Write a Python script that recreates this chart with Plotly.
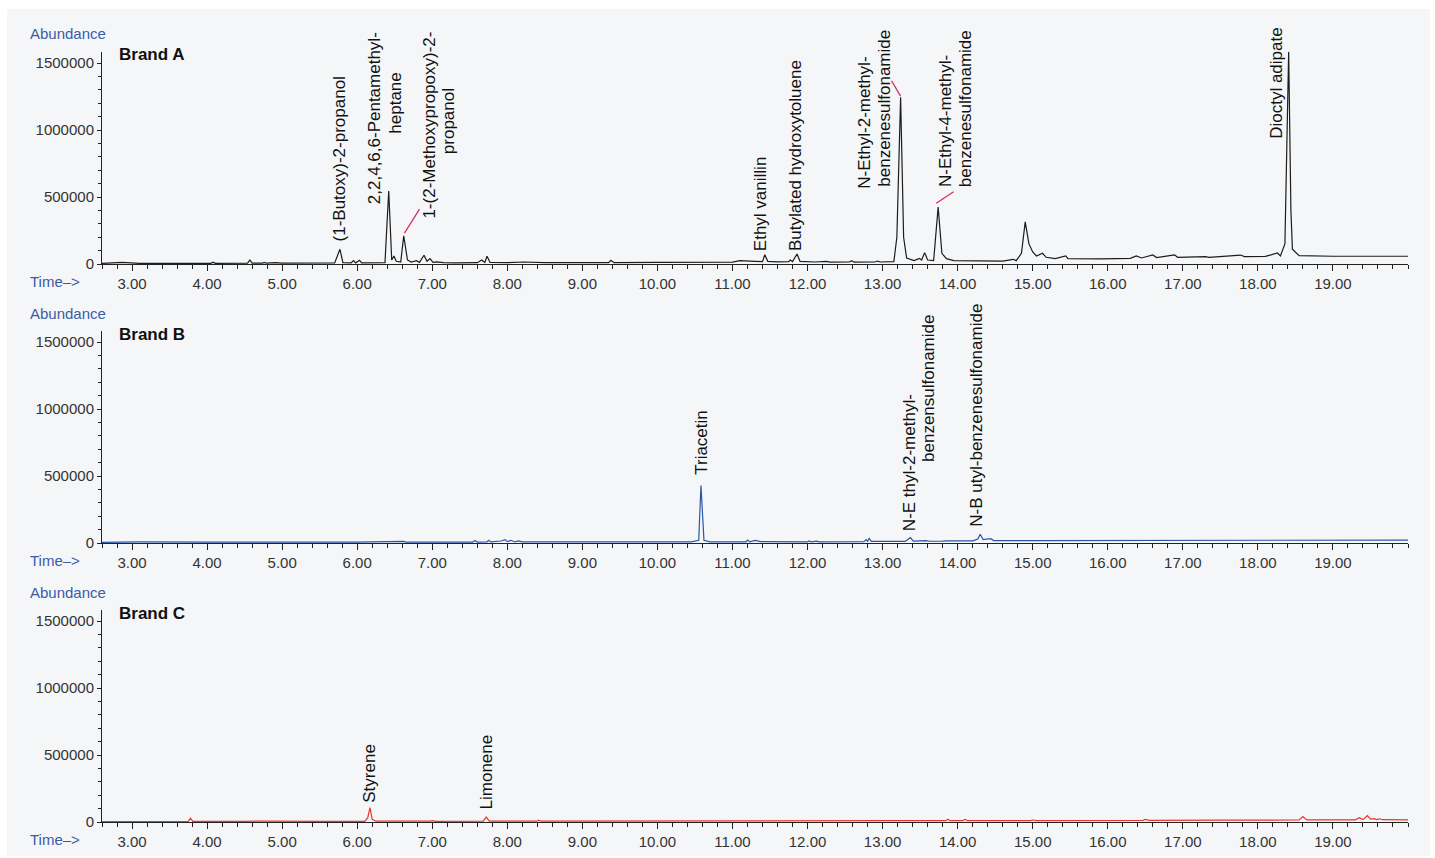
import plotly.graph_objects as go

# ---------------- data ----------------
time_A = [2.60, 2.87, 3.10, 4.05, 4.08, 4.11, 4.54, 4.57, 4.60, 4.74, 4.76, 4.79, 4.91, 5.00,
          5.70, 5.77, 5.81, 5.92, 5.95, 5.98, 6.03, 6.06, 6.37, 6.42, 6.46, 6.49, 6.52,
          6.58, 6.62, 6.67, 6.72, 6.79, 6.83, 6.89, 6.93, 6.97, 7.01, 7.06, 7.15, 7.30,
          7.60, 7.66, 7.70, 7.73, 7.77, 8.00, 8.22, 8.50, 8.90, 9.35, 9.38, 9.42,
          10.00, 10.50, 11.00, 11.10, 11.20, 11.30, 11.40, 11.43, 11.47, 11.60, 11.75, 11.77,
          11.80, 11.86, 11.90, 12.10, 12.25, 12.30, 12.56, 12.59, 12.62, 12.90, 12.93, 12.97,
          13.15, 13.19, 13.24, 13.28, 13.32, 13.42, 13.49, 13.52, 13.56, 13.60, 13.68, 13.74,
          13.79, 13.85, 13.95, 14.30, 14.60, 14.74, 14.78, 14.85, 14.90, 14.95, 15.00, 15.05,
          15.13, 15.18, 15.30, 15.44, 15.47, 15.90, 16.30, 16.38, 16.45, 16.60, 16.65, 16.89,
          16.93, 17.30, 17.35, 17.77, 17.82, 18.10, 18.26, 18.30, 18.36, 18.41, 18.44, 18.46,
          18.55, 19.00, 19.50, 20.00]
abund_A = [5000, 12000, 5000, 5000, 14000, 5000, 6000, 30000, 6000, 6000, 12000, 6000, 10000, 6000,
           8000, 110000, 10000, 8000, 25000, 8000, 28000, 8000, 10000, 545000, 30000, 60000, 20000,
           15000, 210000, 30000, 15000, 25000, 12000, 65000, 20000, 40000, 12000, 16000, 10000, 8000,
           10000, 30000, 12000, 58000, 12000, 10000, 15000, 10000, 10000, 10000, 28000, 10000,
           12000, 12000, 14000, 25000, 25000, 20000, 18000, 70000, 20000, 16000, 18000, 30000,
           18000, 75000, 20000, 15000, 20000, 14000, 15000, 25000, 14000, 15000, 22000, 15000,
           18000, 200000, 1245000, 200000, 45000, 25000, 42000, 30000, 85000, 30000, 25000, 425000,
           80000, 40000, 25000, 22000, 22000, 35000, 25000, 80000, 315000, 150000, 90000, 60000,
           80000, 50000, 40000, 60000, 40000, 38000, 42000, 60000, 45000, 68000, 48000, 68000,
           50000, 55000, 50000, 67000, 55000, 57000, 82000, 60000, 150000, 1585000, 400000, 110000,
           62000, 58000, 57000, 58000]

time_B = [2.60, 3.10, 4.00, 5.00, 6.00, 6.62, 6.65, 7.00, 7.54, 7.57, 7.60, 7.73, 7.75, 7.78,
          7.92, 7.97, 8.00, 8.05, 8.10, 8.15, 8.20, 8.50, 9.00, 9.50, 10.00, 10.30, 10.35,
          10.45, 10.55, 10.58, 10.62, 10.70, 11.18, 11.20, 11.23, 11.30, 11.38, 11.70, 12.00,
          12.02, 12.05, 12.12, 12.15, 12.75, 12.78, 12.80, 12.82, 12.85, 13.30, 13.37, 13.41,
          13.58, 13.62, 13.80, 13.85, 14.20, 14.27, 14.30, 14.34, 14.44, 14.48, 15.00, 16.00,
          17.00, 18.00, 19.00, 20.00]
abund_B = [5000, 8000, 6000, 6000, 7000, 12000, 7000, 7000, 7000, 18000, 7000, 8000, 20000, 8000,
           15000, 25000, 10000, 20000, 8000, 15000, 8000, 8000, 8000, 8000, 8000, 8000, 12000,
           8000, 20000, 430000, 20000, 8000, 8000, 22000, 9000, 20000, 10000, 9000, 9000,
           15000, 9000, 14000, 9000, 10000, 25000, 12000, 35000, 12000, 12000, 40000, 14000,
           18000, 13000, 14000, 16000, 16000, 30000, 65000, 25000, 32000, 18000, 18000, 19000,
           20000, 21000, 21000, 22000]

time_C = [2.60, 3.00, 3.75, 3.78, 3.81, 4.50, 4.80, 5.50, 6.10, 6.14, 6.17, 6.20, 6.25, 6.97,
          7.00, 7.05, 7.68, 7.72, 7.76, 8.39, 8.42, 8.45, 9.00, 10.00, 11.00, 12.00, 13.00,
          13.84, 13.87, 13.90, 14.07, 14.10, 14.13, 14.97, 15.00, 15.05, 16.00, 16.47, 16.50,
          16.55, 17.50, 18.55, 18.60, 18.65, 19.30, 19.35, 19.40, 19.46, 19.50, 19.55, 19.58,
          19.62, 19.66, 20.00]
abund_C = [3000, 4000, 5000, 28000, 5000, 5000, 7000, 5000, 5000, 30000, 107000, 20000, 6000, 6000,
           10000, 5000, 6000, 37000, 6000, 6000, 14000, 6000, 7000, 8000, 9000, 10000, 10000,
           10000, 20000, 10000, 11000, 20000, 11000, 11000, 15000, 11000, 12000, 12000, 20000,
           12000, 14000, 15000, 40000, 16000, 16000, 32000, 18000, 47000, 22000, 25000, 18000,
           24000, 17000, 16000]

brands = ["Brand A", "Brand B", "Brand C"]
colors = ["#1c1c1c", "#2b55aa", "#e8352f"]
x_ticks = [3, 4, 5, 6, 7, 8, 9, 10, 11, 12, 13, 14, 15, 16, 17, 18, 19]
y_ticks = [0, 500000, 1000000, 1500000]

# peak labels: (text, time, abundance at label bottom)
labels_A = [("(1-Butoxy)-2-propanol", 5.77, 164000),
            ("2,2,4,6,6-Pentamethyl-", 6.225, 440000),
            ("heptane", 6.505, 963000),
            ("1-(2-Methoxypropoxy)-2-", 6.97, 328000),
            ("propanol", 7.21, 813000),
            ("Ethyl vanillin", 11.376, 90000),
            ("Butylated hydroxytoluene", 11.84, 90000),
            ("N-Ethyl-2-methyl-", 12.76, 552000),
            ("benzenesulfonamide", 13.02, 567000),
            ("N-Ethyl-4-methyl-", 13.83, 567000),
            ("benzenesulfonamide", 14.105, 567000),
            ("Dioctyl adipate", 18.25, 925000)]
labels_B = [("Triacetin", 10.587, 502000),
            ("N-E thyl-2-methyl-", 13.35, 84000),
            ("benzensulfonamide", 13.62, 595000),
            ("N-B utyl-benzenesulfonamide", 14.25, 114000)]
labels_C = [("Styrene", 6.17, 140000),
            ("Limonene", 7.716, 90000)]
# leader lines in panel A: (t0, a0, t1, a1)
leaders_A = [(6.63, 231000, 6.83, 410000),
             (13.12, 1368000, 13.24, 1254000),
             (13.715, 453000, 13.946, 540000)]

# ---------------- figure ----------------
W, H = 1435, 858      # reference geometry (positions below are in these pixels)
FIG_H = 866           # rendered height; the photo is squeezed back to 858
FONT = "Liberation Sans, Arial, Helvetica, sans-serif"
fig = go.Figure()

series = [(time_A, abund_A), (time_B, abund_B), (time_C, abund_C)]
for i, (t, a) in enumerate(series):
    fig.add_trace(go.Scatter(x=t, y=a, mode="lines",
                             line=dict(color=colors[i], width=1.2),
                             xaxis="x" if i == 0 else f"x{i+1}",
                             yaxis="y" if i == 0 else f"y{i+1}",
                             showlegend=False, hoverinfo="skip"))

tops = [51.7, 330.7, 609.7]
zeros = [264.0, 543.0, 822.0]
x0_px, x1_px = 102, 1408

layout = dict(width=W, height=FIG_H, autosize=False, margin=dict(l=0, r=0, t=0, b=0, pad=0),
              paper_bgcolor="white", plot_bgcolor="rgba(0,0,0,0)",
              font=dict(family=FONT, color="#333333", size=15),
              showlegend=False)

for i in range(3):
    sx = "" if i == 0 else str(i + 1)
    layout[f"xaxis{sx}"] = dict(
        domain=[x0_px / W, x1_px / W], range=[2.6, 20.0],
        anchor=f"y{sx}", tickvals=x_ticks, ticktext=[f"{v:.2f}" for v in x_ticks],
        ticks="outside", ticklen=6, tickwidth=1, tickcolor="#222222",
        showline=True, linecolor="#222222", linewidth=1,
        showgrid=False, zeroline=False,
        tickfont=dict(size=15, color="#333333", family=FONT),
        minor=dict(dtick=0.2, tick0=0, ticks="outside", ticklen=3.5,
                   tickcolor="#222222", tickwidth=1, showgrid=False),
        fixedrange=True)
    layout[f"yaxis{sx}"] = dict(
        domain=[1 - zeros[i] / H, 1 - tops[i] / H], range=[0, 1586000],
        anchor=f"x{sx}", tickvals=y_ticks, ticktext=[str(v) for v in y_ticks],
        ticks="outside", ticklen=4, tickwidth=1, tickcolor="#222222",
        showline=True, linecolor="#222222", linewidth=1,
        showgrid=False, zeroline=False,
        tickfont=dict(size=15, color="#333333", family=FONT),
        minor=dict(dtick=100000, tick0=0, ticks="outside", ticklen=3,
                   tickcolor="#222222", tickwidth=1, showgrid=False),
        fixedrange=True)

fig.update_layout(**layout)

annotations = []
for i, labs in enumerate([labels_A, labels_B, labels_C]):
    sx = "" if i == 0 else str(i + 1)
    for text, t, a in labs:
        annotations.append(dict(text=text, x=t, y=a, xref=f"x{sx}", yref=f"y{sx}",
                                xanchor="center", yanchor="bottom", textangle=-90,
                                showarrow=False, borderpad=0,
                                font=dict(size=17, color="#111111", family=FONT)))
    annotations.append(dict(text="Abundance", x=27.5 / W, y=1 - (zeros[i] - 230) / H,
                            xref="paper", yref="paper", xanchor="left", yanchor="middle",
                            showarrow=False, font=dict(size=15, color="#3b5ba8", family=FONT)))
    annotations.append(dict(text="Time–>", x=27.5 / W, y=1 - (zeros[i] + 17.5) / H,
                            xref="paper", yref="paper", xanchor="left", yanchor="middle",
                            showarrow=False, font=dict(size=15, color="#3b5ba8", family=FONT)))
    annotations.append(dict(text=f"<b>{brands[i]}</b>", x=116.5 / W, y=1 - (zeros[i] - 209) / H,
                            xref="paper", yref="paper", xanchor="left", yanchor="middle",
                            showarrow=False, font=dict(size=17, color="#111111", family=FONT)))

shapes = [dict(type="rect", xref="paper", yref="paper", x0=7 / W, x1=1430 / W,
               y0=1 - 856 / H, y1=1 - 9 / H, fillcolor="#f5f6f8", line=dict(width=0),
               layer="below")]
for t0, a0, t1, a1 in leaders_A:
    shapes.append(dict(type="line", xref="x", yref="y", x0=t0, y0=a0, x1=t1, y1=a1,
                       line=dict(color="#d9285e", width=1.2)))

fig.update_layout(annotations=annotations, shapes=shapes)

fig.write_html("out.html", config={"displayModeBar": False, "responsive": False},
               post_script="document.body.style.margin='0';document.body.style.overflow='hidden';")
